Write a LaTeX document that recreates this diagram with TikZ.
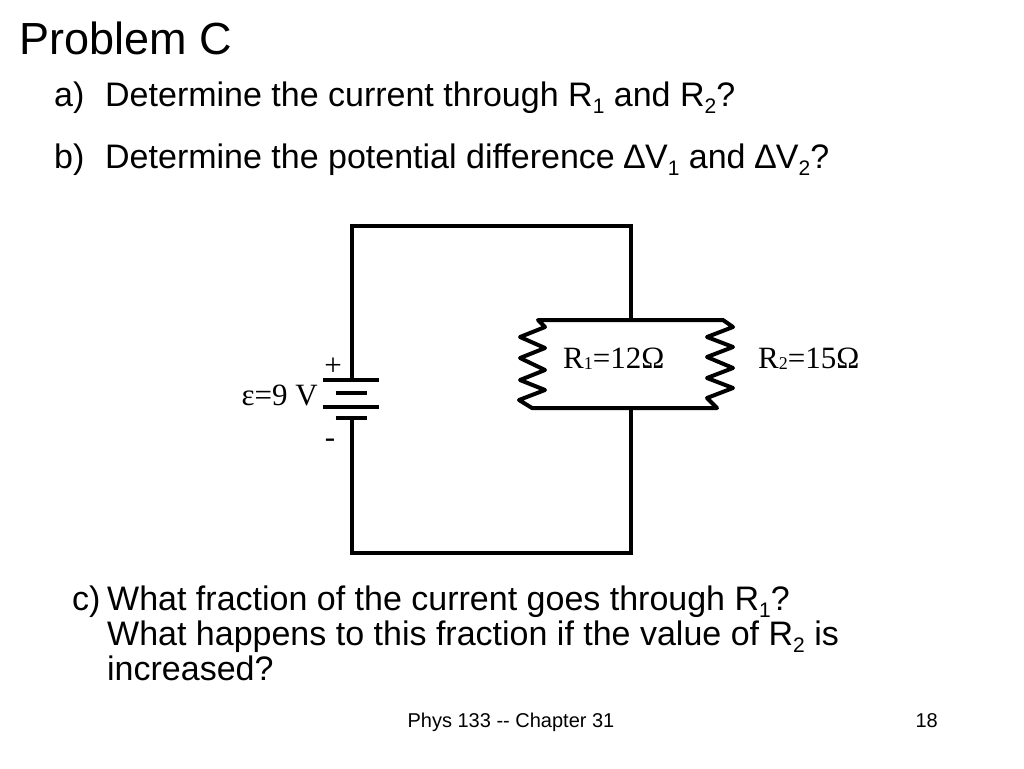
\documentclass[tikz,border=0pt]{standalone}
\usepackage{fontspec}
\setmainfont{Liberation Sans}
\newfontfamily\circfont{Liberation Serif}
\usepackage{tikz}
\tikzstyle{wire} = [draw,line width=4pt,line join=miter]
\tikzstyle{plate} = [draw,line width=4pt]
\tikzstyle{resistor} = [draw,line width=4pt,line join=round]
\tikzstyle{title} = [anchor=base west,inner sep=0pt,font=\fontsize{45}{54}\selectfont]
\tikzstyle{question} = [anchor=base west,inner sep=0pt,font=\fontsize{34}{40}\selectfont]
\tikzstyle{circlabel} = [inner sep=0pt,font=\circfont\fontsize{31}{36}\selectfont]
\tikzstyle{footer} = [inner sep=0pt,font=\fontsize{20}{24}\selectfont]
\newcommand{\sub}[1]{\smash{\raisebox{-0.22em}{\fontsize{21}{21}\selectfont #1}}}
\newcommand{\csub}[1]{\raisebox{-0.06em}{\fontsize{18}{18}\selectfont #1}}

\begin{document}
\begin{tikzpicture}[x=1pt,y=-1pt]
    \useasboundingbox (0,0) rectangle (1024,768);
    % The texts of the problem
    \node[title] (head) at (19,55) {Problem C};
    \node[question] (qa) at (54,106) {a)};
    \node[question] (qatext) at (105,106) {Determine the current through R\sub{1} and R\sub{2}?};
    \node[question] (qb) at (54,168) {b)};
    \node[question] (qbtext) at (105,168) {Determine the potential difference ∆V\sub{1} and ∆V\sub{2}?};
    \node[question] (qc) at (72,610) {c)};
    \node[question] (qc1) at (107,610) {What fraction of the current goes through R\sub{1}?};
    \node[question] (qc2) at (107,645) {What happens to this fraction if the value of R\sub{2} is};
    \node[question] (qc3) at (107,680) {increased?};
    \node[footer,anchor=base] (foot) at (511,727) {Phys 133 -{}- Chapter 31};
    \node[footer,anchor=base east] (page) at (938,727) {18};
    % First we place the corners of the circuit
    \foreach \x/\y/\name in {352/226/TL, 631/226/TR, 631/320/JT, 631/408/JB, 631/553/BR, 352/553/BL, 352/380/BP, 352/418/BN}
        \coordinate (\name) at (\x,\y);
    % Connect the corners with wires
    \path[wire] (BP) -- (TL) -- (TR) -- (JT);
    \path[wire] (JB) -- (BR) -- (BL) -- (BN);
    % The battery plates
    \foreach \y/\w in {380/28, 393/15.5, 407/28, 418/15.5}
        \path[plate] (351-\w,\y) -- (351+\w,\y);
    \node[circlabel,anchor=base east] (emf) at (318,405) {ε=9 V};
    \node[circlabel] (plus) at (333,367) {+};
    \node[circlabel] (minus) at (330,443) {-};
    % The two resistors in parallel
    \path[resistor] (532,408) -- (519,400) -- (545,390) -- (520,380) -- (545,370) -- (520,358)
        -- (545,348) -- (520,337) -- (545,327) -- (538,320) -- (723,320) -- (733,327)
        -- (707,337) -- (733,347) -- (707,357) -- (733,368) -- (707,378) -- (733,388)
        -- (707,398) -- (717,408) -- cycle;
    \node[circlabel,anchor=base west] (R1) at (563,368) {R\csub{1}=12Ω};
    \node[circlabel,anchor=base west] (R2) at (758,368) {R\csub{2}=15Ω};
\end{tikzpicture}
\end{document}
